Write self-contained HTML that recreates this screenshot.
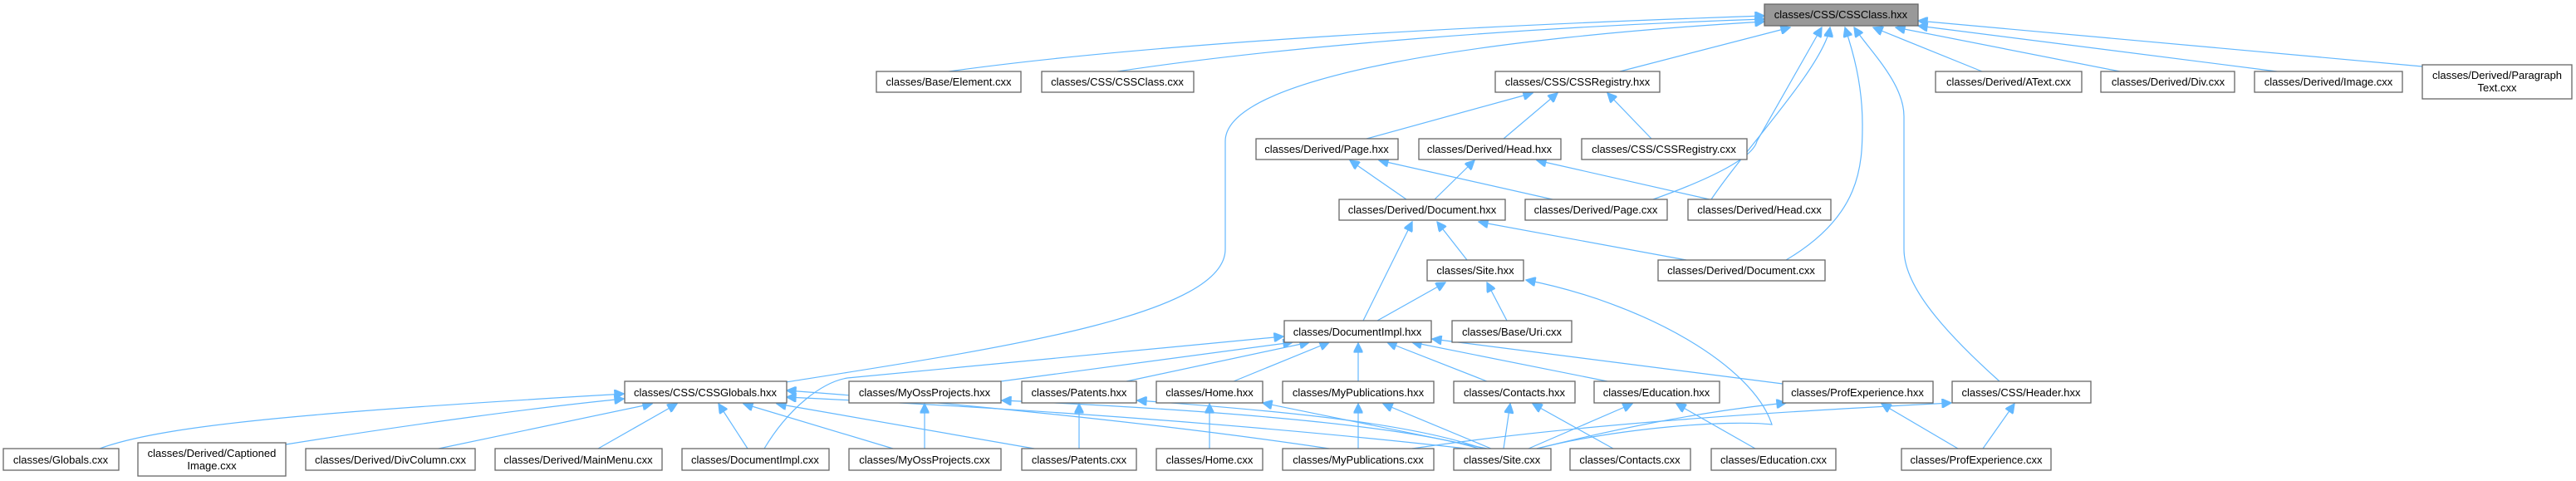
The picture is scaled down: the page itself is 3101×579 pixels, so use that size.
<!DOCTYPE html>
<html><head><meta charset="utf-8"><style>
html,body{margin:0;padding:0;background:#fff;}
svg{display:block;}
text{font-family:"Liberation Sans",Arial,sans-serif;font-size:13px;fill:#000;text-anchor:middle;}
.n{fill:#fff;stroke:#666;stroke-width:1.3;}
.m{fill:#999;stroke:#666;stroke-width:1.3;}
path{fill:none;stroke:#63b8ff;stroke-width:1.2;}
</style></head><body>
<svg width="3101" height="579" viewBox="0 0 3101 579" xmlns="http://www.w3.org/2000/svg">
<defs><marker id="a" viewBox="0 0 10 10" refX="10" refY="5" markerWidth="13" markerHeight="11" markerUnits="userSpaceOnUse" orient="auto"><path d="M0,0 L10,5 L0,10 z" style="fill:#63b8ff;stroke:#63b8ff"/></marker></defs>
<g marker-end="url(#a)">
<!-- to CSSClass.hxx -->
<path d="M1142,86 C1400,50 1800,30 2124,19"/>
<path d="M1345,86 C1550,55 1850,32 2124,23"/>
<path d="M946,460 C1200,420 1475,380 1475,300 L1475,170 C1475,90 1800,45 2124,26"/>
<path d="M1950,86 L2155,33"/>
<path d="M1990,240 C2060,215 2110,190 2115,170 L2193,33"/>
<path d="M2060,240 C2100,180 2195,80 2203,33"/>
<path d="M2150,313 C2240,260 2242,200 2242,150 C2242,100 2230,60 2221,33"/>
<path d="M2407,459 C2330,390 2292,340 2292,300 L2292,140 C2292,100 2250,60 2232,33"/>
<path d="M2386,86 L2255,33"/>
<path d="M2552,86 L2282,33"/>
<path d="M2741,86 L2309,31"/>
<path d="M2916,80 L2309,25"/>
<!-- to CSSRegistry.hxx -->
<path d="M1645,167 L1845,112"/>
<path d="M1810,167 L1875,112"/>
<path d="M1988,167 L1935,112"/>
<!-- to Page.hxx / Head.hxx -->
<path d="M1693,240 L1625,193"/>
<path d="M1869,240 L1660,193"/>
<path d="M1727,240 L1775,193"/>
<path d="M2058,240 L1850,193"/>
<!-- to Document.hxx -->
<path d="M1641,386 L1700,267"/>
<path d="M1766,313 L1730,267"/>
<path d="M2030,313 L1780,267"/>
<!-- to Site.hxx -->
<path d="M1658,386 L1740,340"/>
<path d="M1814,386 L1790,340"/>
<path d="M1850,540 C1950,515 2080,505 2133,511 C2110,440 1980,365 1837,337"/>
<!-- to DocumentImpl.hxx -->
<path d="M920,540 C950,490 990,460 1020,455 L1545,405"/>
<path d="M1205,459 L1556,412"/>
<path d="M1356,459 L1576,412"/>
<path d="M1485,459 L1600,412"/>
<path d="M1635,459 L1635,413"/>
<path d="M1790,459 L1670,412"/>
<path d="M1935,459 L1700,412"/>
<path d="M2146,462 L1724,408"/>
<!-- to CSSGlobals.hxx -->
<path d="M120,540 C200,510 400,495 751,474"/>
<path d="M344,535 C500,510 650,490 751,480"/>
<path d="M528,540 L785,486"/>
<path d="M720,540 L815,486"/>
<path d="M900,540 L865,486"/>
<path d="M1075,540 L895,486"/>
<path d="M1245,540 L935,486"/>
<path d="M1765,540 C1500,510 1200,490 947,478"/>
<path d="M1600,540 C1400,510 1150,485 947,470"/>
<!-- leaf to hxx -->
<path d="M1113,540 L1113,486"/>
<path d="M1299,540 L1299,486"/>
<path d="M1456,540 L1456,486"/>
<path d="M1635,540 L1635,486"/>
<path d="M1780,540 C1700,515 1500,495 1206,482"/>
<path d="M1785,540 C1700,510 1550,495 1369,482"/>
<path d="M1790,540 L1520,485"/>
<path d="M1795,540 L1665,486"/>
<path d="M1810,540 L1818,486"/>
<path d="M1840,540 L1965,486"/>
<path d="M1850,540 C1950,515 2050,495 2150,485"/>
<path d="M1700,540 C1900,510 2150,495 2349,485"/>
<path d="M1942,540 L1845,486"/>
<path d="M2113,540 L2018,486"/>
<path d="M2357,540 L2265,486"/>
<path d="M2387,540 L2425,486"/>
</g>
<!-- nodes -->
<rect class="m" x="2124" y="5" width="185" height="26"/><text x="2216" y="22">classes/CSS/CSSClass.hxx</text>
<rect class="n" x="1055" y="86" width="174" height="25"/><text x="1142" y="103">classes/Base/Element.cxx</text>
<rect class="n" x="1254" y="86" width="183" height="25"/><text x="1345" y="103">classes/CSS/CSSClass.cxx</text>
<rect class="n" x="1800" y="86" width="198" height="25"/><text x="1899" y="103">classes/CSS/CSSRegistry.hxx</text>
<rect class="n" x="2330" y="86" width="176" height="25"/><text x="2418" y="103">classes/Derived/AText.cxx</text>
<rect class="n" x="2529" y="86" width="161" height="25"/><text x="2610" y="103">classes/Derived/Div.cxx</text>
<rect class="n" x="2714" y="86" width="178" height="25"/><text x="2803" y="103">classes/Derived/Image.cxx</text>
<rect class="n" x="2916" y="78" width="180" height="41"/><text x="3006" y="95">classes/Derived/Paragraph</text><text x="3006" y="110">Text.cxx</text>
<rect class="n" x="1512" y="167" width="171" height="25"/><text x="1597" y="184">classes/Derived/Page.hxx</text>
<rect class="n" x="1708" y="167" width="171" height="25"/><text x="1793" y="184">classes/Derived/Head.hxx</text>
<rect class="n" x="1904" y="167" width="199" height="25"/><text x="2003" y="184">classes/CSS/CSSRegistry.cxx</text>
<rect class="n" x="1612" y="240" width="200" height="25"/><text x="1712" y="257">classes/Derived/Document.hxx</text>
<rect class="n" x="1836" y="240" width="171" height="25"/><text x="1921" y="257">classes/Derived/Page.cxx</text>
<rect class="n" x="2032" y="240" width="172" height="25"/><text x="2118" y="257">classes/Derived/Head.cxx</text>
<rect class="n" x="1718" y="313" width="116" height="25"/><text x="1776" y="330">classes/Site.hxx</text>
<rect class="n" x="1996" y="313" width="201" height="25"/><text x="2096" y="330">classes/Derived/Document.cxx</text>
<rect class="n" x="1546" y="386" width="177" height="26"/><text x="1634" y="404">classes/DocumentImpl.hxx</text>
<rect class="n" x="1748" y="386" width="144" height="26"/><text x="1820" y="404">classes/Base/Uri.cxx</text>
<rect class="n" x="752" y="459" width="195" height="26"/><text x="849" y="477">classes/CSS/CSSGlobals.hxx</text>
<rect class="n" x="1022" y="459" width="183" height="26"/><text x="1113" y="477">classes/MyOssProjects.hxx</text>
<rect class="n" x="1230" y="459" width="138" height="26"/><text x="1299" y="477">classes/Patents.hxx</text>
<rect class="n" x="1392" y="459" width="128" height="26"/><text x="1456" y="477">classes/Home.hxx</text>
<rect class="n" x="1544" y="459" width="182" height="26"/><text x="1635" y="477">classes/MyPublications.hxx</text>
<rect class="n" x="1750" y="459" width="146" height="26"/><text x="1823" y="477">classes/Contacts.hxx</text>
<rect class="n" x="1919" y="459" width="151" height="26"/><text x="1994" y="477">classes/Education.hxx</text>
<rect class="n" x="2146" y="459" width="181" height="26"/><text x="2236" y="477">classes/ProfExperience.hxx</text>
<rect class="n" x="2350" y="459" width="167" height="26"/><text x="2433" y="477">classes/CSS/Header.hxx</text>
<rect class="n" x="4" y="540" width="139" height="26"/><text x="73" y="558">classes/Globals.cxx</text>
<rect class="n" x="166" y="533" width="178" height="40"/><text x="255" y="550">classes/Derived/Captioned</text><text x="255" y="565">Image.cxx</text>
<rect class="n" x="368" y="540" width="204" height="26"/><text x="470" y="558">classes/Derived/DivColumn.cxx</text>
<rect class="n" x="596" y="540" width="201" height="26"/><text x="696" y="558">classes/Derived/MainMenu.cxx</text>
<rect class="n" x="821" y="540" width="177" height="26"/><text x="909" y="558">classes/DocumentImpl.cxx</text>
<rect class="n" x="1022" y="540" width="183" height="26"/><text x="1113" y="558">classes/MyOssProjects.cxx</text>
<rect class="n" x="1230" y="540" width="138" height="26"/><text x="1299" y="558">classes/Patents.cxx</text>
<rect class="n" x="1392" y="540" width="128" height="26"/><text x="1456" y="558">classes/Home.cxx</text>
<rect class="n" x="1544" y="540" width="182" height="26"/><text x="1635" y="558">classes/MyPublications.cxx</text>
<rect class="n" x="1750" y="540" width="117" height="26"/><text x="1808" y="558">classes/Site.cxx</text>
<rect class="n" x="1890" y="540" width="145" height="26"/><text x="1962" y="558">classes/Contacts.cxx</text>
<rect class="n" x="2060" y="540" width="150" height="26"/><text x="2135" y="558">classes/Education.cxx</text>
<rect class="n" x="2289" y="540" width="180" height="26"/><text x="2379" y="558">classes/ProfExperience.cxx</text>
</svg>
</body></html>
